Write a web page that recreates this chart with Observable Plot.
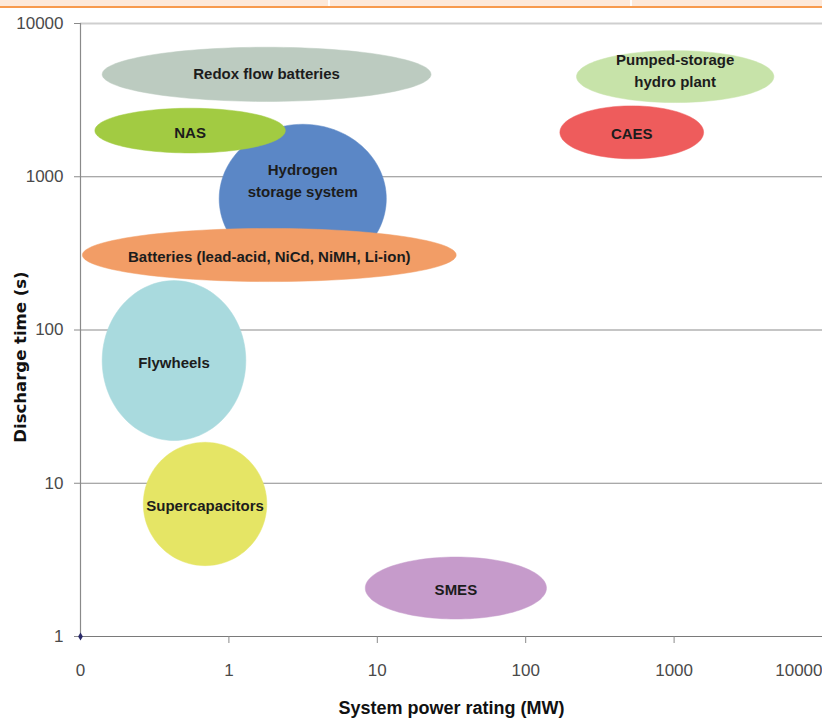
<!DOCTYPE html>
<html>
<head>
<meta charset="utf-8">
<script src="https://cdn.jsdelivr.net/npm/d3@7"></script>
<script src="https://cdn.jsdelivr.net/npm/@observablehq/plot@0.6"></script>
<style>
  html, body { margin: 0; padding: 0; background: #fff; }
  #wrap { position: relative; width: 822px; height: 724px; overflow: hidden; }
  #strip { position: absolute; left: 0; top: 0; width: 822px; height: 6px; background: #fde9da; border-bottom: 2px solid #f79a4d; z-index: 2; }
  .sep { position: absolute; top: 0; width: 2px; height: 6px; background: #fff; }
  #chart { position: absolute; left: 0; top: 0; }
</style>
</head>
<body>
<div id="wrap">
  <div id="strip"><div class="sep" style="left:328px"></div><div class="sep" style="left:630px"></div></div>
  <div id="chart"></div>
</div>
<script>
// Technologies (drawing order: back to front)
const names = ["Hydrogen\nstorage system", "NAS", "Redox flow batteries", "Batteries (lead-acid, NiCd, NiMH, Li-ion)",
  "Flywheels", "Supercapacitors", "SMES", "Pumped-storage\nhydro plant", "CAES"];
// System power rating range (MW)
const powerMin = [0.86, 0.125, 0.14, 0.103, 0.14, 0.265, 8.3, 220, 170];
const powerMax = [11.5, 2.4, 23, 34, 1.3, 1.8, 138, 4700, 1580];
// Discharge time range (s)
const timeMin = [235, 1430, 3100, 207, 19, 2.9, 1.3, 3050, 1310];
const timeMax = [2200, 2800, 7000, 460, 210, 18.5, 3.3, 6650, 2900];
// Label vertical position (s); null = centre of bubble
const labelTime = [970, null, 4800, null, null, null, null, 5070, null];
const colors = ["#5b87c6", "#a2cb42", "#bccbc0", "#f29d66", "#a9dade", "#e5e565", "#c69bcb", "#c7e3a9", "#ee5c5c"];

const xTicks = [0.1, 1, 10, 100, 1000, 10000];
const yTicks = [1, 10, 100, 1000, 10000];

const lg = Math.log10;
const bubbles = names.map((name, i) => {
  const cx = (lg(powerMin[i]) + lg(powerMax[i])) / 2, rx = (lg(powerMax[i]) - lg(powerMin[i])) / 2;
  const cy = (lg(timeMin[i]) + lg(timeMax[i])) / 2, ry = (lg(timeMax[i]) - lg(timeMin[i])) / 2;
  const pts = d3.range(0, 360, 3).map(a => {
    const t = a * Math.PI / 180;
    return {x: Math.pow(10, cx + rx * Math.cos(t)), y: Math.pow(10, cy + ry * Math.sin(t))};
  });
  return {name, color: colors[i], pts, lx: Math.pow(10, cx), ly: labelTime[i] ?? Math.pow(10, cy)};
});

const font = "'Liberation Sans', Arial, sans-serif";
const fmtX = d => d < 1 ? "0" : String(d);

const plot = Plot.plot({
  width: 822,
  height: 724,
  marginLeft: 80,
  marginRight: 0,
  marginTop: 23,
  marginBottom: 88,
  style: {fontFamily: font, fontSize: "17px", color: "#4a4a4a", background: "transparent", overflow: "visible"},
  x: {type: "log", domain: [0.1, 10000]},
  y: {type: "log", domain: [1, 10000]},
  marks: [
    Plot.ruleY([10, 100, 1000], {stroke: "#8c8c8c", strokeWidth: 1.2}),
    Plot.ruleY([10000], {stroke: "#cfcfcf", strokeWidth: 2}),
    ...bubbles.map(b => Plot.line(b.pts, {x: "x", y: "y", fill: b.color, stroke: b.color, strokeWidth: 1, strokeOpacity: 0.5, curve: "linear-closed"})),
    Plot.text(bubbles, {x: "lx", y: "ly", text: "name", fontFamily: font, fontWeight: "bold", fontSize: 15, fill: "#1c1c1c", lineHeight: 1.45}),
    Plot.ruleX([0.1], {stroke: "#8a8a8a", strokeWidth: 1.2}),
    Plot.ruleY([1], {stroke: "#7a7a7a", strokeWidth: 1.2}),
    Plot.axisY({ticks: yTicks, tickFormat: d => String(d), tickSize: 6, tickPadding: 11, label: null, stroke: "#8a8a8a", fill: "#4a4a4a"}),
    Plot.axisX({ticks: xTicks.slice(1), tickFormat: () => "", tickSize: 7, label: null, stroke: "#8a8a8a"}),
    Plot.axisX({ticks: xTicks.slice(0, -1), tickFormat: fmtX, tickSize: 0, tickPadding: 27, label: null, fill: "#4a4a4a"}),
    Plot.text(xTicks.slice(-1), {x: d => d, frameAnchor: "bottom", lineAnchor: "top", textAnchor: "end", dy: 27, text: fmtX, fontSize: 17, fill: "#4a4a4a"}),
    Plot.dot([{x: 0.1, y: 1}], {x: "x", y: "y", r: 2.5, fill: "#2a2a6a", symbol: "diamond"}),
    Plot.text(["System power rating (MW)"], {frameAnchor: "bottom", dy: 77, fontFamily: font, fontWeight: "bold", fontSize: 18, fill: "#111"}),
    Plot.text(["Discharge time (s)"], {frameAnchor: "left", textAnchor: "middle", dx: -60, dy: 27, rotate: -90, fontFamily: "'DejaVu Sans', Verdana, sans-serif", fontWeight: "bold", fontSize: 16.5, fill: "#111"})
  ]
});
document.getElementById("chart").appendChild(plot);
</script>
</body>
</html>
